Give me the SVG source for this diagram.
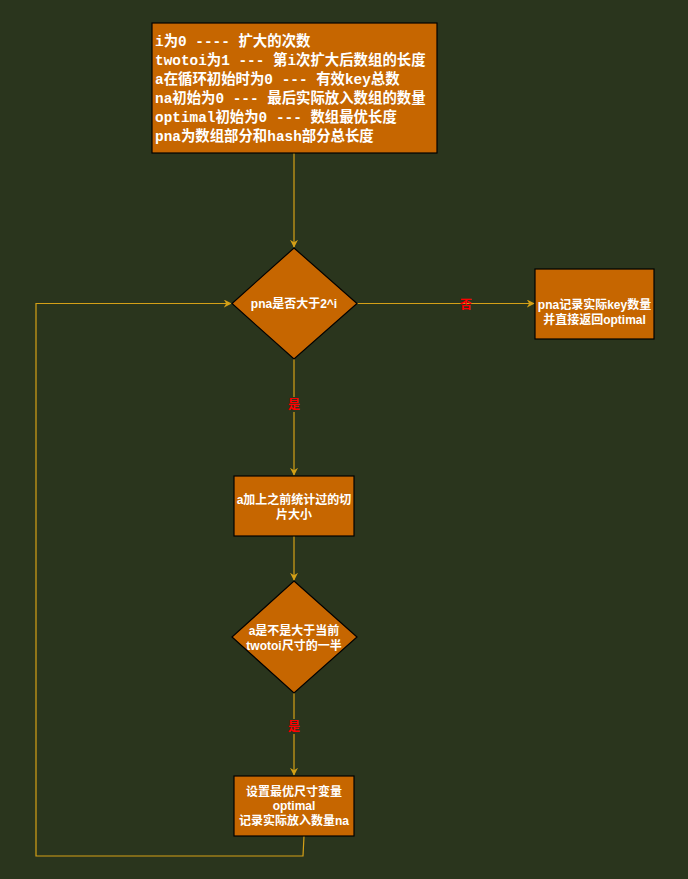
<svg xmlns="http://www.w3.org/2000/svg" width="688" height="879" viewBox="0 0 688 879">
<defs>
<style>
.node{fill:#c66600;stroke:#000;stroke-width:1.2}
.t{fill:#fff;font-family:"Liberation Sans","Noto Sans CJK SC",sans-serif;font-size:12px;font-weight:bold;text-anchor:middle}
.m{fill:#fff;font-family:"Liberation Mono","Noto Sans CJK SC",monospace;font-size:14.4px;font-weight:bold}
.e{fill:none;stroke:#d4a017;stroke-width:1.2}
.bg{fill:#2a351d}
.lbl{fill:#ff0000;font-family:"Liberation Sans","Noto Sans CJK SC",sans-serif;font-size:12px;font-weight:bold;text-anchor:middle}
</style>
<marker id="ar" viewBox="0 0 10 10" refX="9" refY="5" markerWidth="8" markerHeight="8" markerUnits="userSpaceOnUse" orient="auto">
<path d="M0,0 L10,5 L0,10 L3,5 Z" fill="#d4a017"/>
</marker>
</defs>
<rect width="688" height="879" fill="#2a351d"/>
<g id="connectors">
<path class="e" d="M294,153 V247" marker-end="url(#ar)"/>
<path class="e" d="M357,303.5 H534" marker-end="url(#ar)"/>
<path class="e" d="M294,359 V475" marker-end="url(#ar)"/>
<path class="e" d="M294,536 V580" marker-end="url(#ar)"/>
<path class="e" d="M294,693 V775" marker-end="url(#ar)"/>
<path class="e" d="M304,836 L303,856 H36 V303.5 H231" marker-end="url(#ar)"/>
<text class="lbl" x="466" y="309">否</text>
<rect class="bg" x="287" y="397" width="14" height="15"/>
<text class="lbl" x="294" y="409">是</text>
<rect class="bg" x="287" y="719" width="14" height="15"/>
<text class="lbl" x="294" y="731">是</text>
</g>
<g id="info">
<rect class="node" x="152" y="23" width="285" height="130"/>
<text class="m" x="155" y="46">i为0 ---- 扩大的次数</text>
<text class="m" x="155" y="65">twotoi为1 --- 第i次扩大后数组的长度</text>
<text class="m" x="155" y="84">a在循环初始时为0 --- 有效key总数</text>
<text class="m" x="155" y="103">na初始为0 --- 最后实际放入数组的数量</text>
<text class="m" x="155" y="122">optimal初始为0 --- 数组最优长度</text>
<text class="m" x="155" y="141">pna为数组部分和hash部分总长度</text>
</g>
<g id="cond1">
<polygon class="node" points="294,248 357,303.5 294,359 232,303.5"/>
<text class="t" x="294" y="308">pna是否大于2^i</text>
</g>
<g id="ret">
<rect class="node" x="535" y="269" width="119" height="70"/>
<text class="t" x="594.5" y="309">pna记录实际key数量</text>
<text class="t" x="594.5" y="324">并直接返回optimal</text>
</g>
<g id="add">
<rect class="node" x="234" y="476" width="120" height="60"/>
<text class="t" x="294" y="504">a加上之前统计过的切</text>
<text class="t" x="294" y="519">片大小</text>
</g>
<g id="cond2">
<polygon class="node" points="294,581 357,637 294,693 232,637"/>
<text class="t" x="294" y="635">a是不是大于当前</text>
<text class="t" x="294" y="650">twotoi尺寸的一半</text>
</g>
<g id="set">
<rect class="node" x="234" y="776" width="120" height="60"/>
<text class="t" x="294" y="796">设置最优尺寸变量</text>
<text class="t" x="294" y="810">optimal</text>
<text class="t" x="294" y="825">记录实际放入数量na</text>
</g>
</svg>
